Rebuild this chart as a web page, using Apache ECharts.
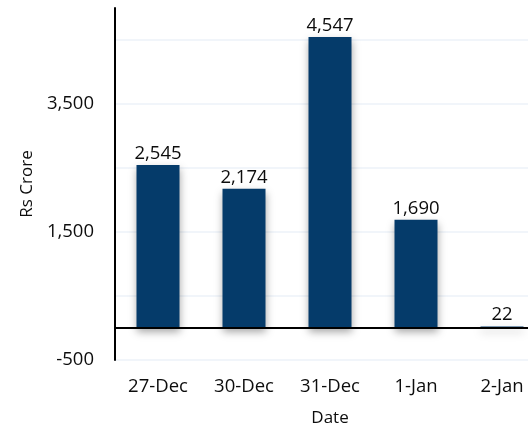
<!DOCTYPE html>
<html>
<head>
<meta charset="utf-8">
<script src="https://cdn.jsdelivr.net/npm/echarts@6/dist/echarts.min.js"></script>
<style>
  html, body { margin: 0; padding: 0; background: #fff; }
  #chart { width: 528px; height: 432px; }
</style>
</head>
<body>
<div id="chart"></div>
<script>
// Daily flows in Rs Crore
const dates = ['27-Dec', '30-Dec', '31-Dec', '1-Jan', '2-Jan'];
const flows = [2545, 2174, 4547, 1690, 22];
// Value axis: gridlines every 1000 from -500, labels on every other line
const yMin = -500;
const yMax = 5000;
const yStep = 1000;
const yLabelled = [-500, 1500, 3500];

const FONT = 'Open Sans';
const TEXT = '#0d0d0d';
const fmt = v => Number(v).toLocaleString('en-US');

const chart = echarts.init(document.getElementById('chart'), null, { renderer: 'canvas' });
chart.setOption({
  animation: false,
  backgroundColor: '#ffffff',
  textStyle: { fontFamily: FONT },
  grid: {
    left: 115, right: -17, top: 8, bottom: 72,
    containLabel: false,
    outerBoundsMode: 'none'
  },
  xAxis: {
    type: 'category',
    data: dates,
    name: 'Date',
    nameLocation: 'middle',
    nameGap: 50,
    nameTextStyle: { fontFamily: FONT, fontSize: 17, color: TEXT },
    axisLine: { show: false, onZero: false },
    axisTick: { show: false },
    axisLabel: { margin: 17, fontFamily: FONT, fontSize: 18.5, color: TEXT },
    splitLine: { show: false }
  },
  yAxis: {
    type: 'value',
    min: yMin,
    max: yMax,
    interval: yStep,
    name: 'Rs Crore',
    nameLocation: 'middle',
    nameGap: 72,
    nameRotate: 90,
    nameTextStyle: { fontFamily: FONT, fontSize: 17, color: TEXT },
    axisLine: { show: true, lineStyle: { color: '#000', width: 2 } },
    axisTick: { show: false },
    axisLabel: {
      margin: 21,
      fontFamily: FONT,
      fontSize: 18.5,
      color: TEXT,
      formatter: v => (yLabelled.includes(v) ? fmt(v) : '')
    },
    splitLine: {
      show: true,
      showMinLine: true,
      showMaxLine: false,
      lineStyle: { color: '#edf2f8', width: 1.5 }
    }
  },
  series: [{
    type: 'bar',
    data: flows,
    barCategoryGap: '50%',
    itemStyle: {
      color: '#053b6a',
      shadowColor: 'rgba(0,0,0,0.35)',
      shadowBlur: 8,
      shadowOffsetY: 4
    },
    label: {
      show: true,
      position: 'top',
      distance: 2,
      fontFamily: FONT,
      fontSize: 18.5,
      color: TEXT,
      formatter: p => fmt(p.value)
    },
    markLine: {
      silent: true,
      symbol: 'none',
      label: { show: false },
      lineStyle: { color: '#000', width: 2, type: 'solid' },
      data: [{ yAxis: 0 }]
    }
  }]
});
</script>
</body>
</html>
